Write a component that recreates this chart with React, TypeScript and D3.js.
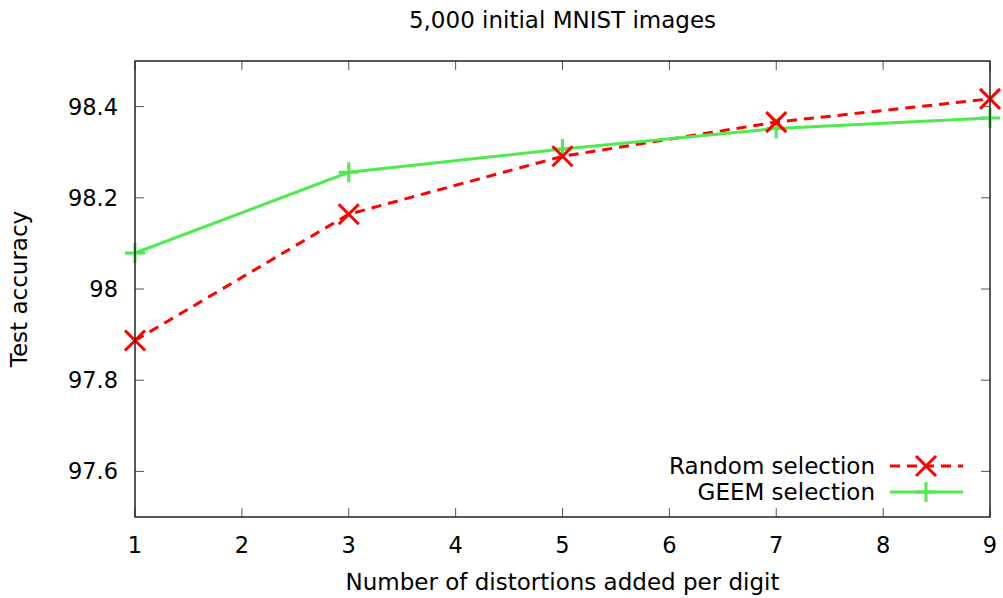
import React from "react";
import * as d3 from "d3";

const xValues = [1, 3, 5, 7, 9];
const randomSel = [97.887, 98.164, 98.291, 98.366, 98.417];
const geemSel = [98.079, 98.256, 98.307, 98.352, 98.375];
const xTicks = [1, 2, 3, 4, 5, 6, 7, 8, 9];
const yTicks = [97.6, 97.8, 98, 98.2, 98.4];
const yTickLabels = ["97.6", "97.8", "98", "98.2", "98.4"];

const W = 1003, H = 598;
const L = 135, R = 990, T = 61, B = 517;
const FONT = "DejaVu Sans, sans-serif";

export default function App() {
  const x = d3.scaleLinear().domain([1, 9]).range([L, R]);
  const y = d3.scaleLinear().domain([97.5, 98.5]).range([B, T]);
  const line = d3.line<number>().x((_, i) => x(xValues[i])).y((d) => y(d));
  const red = "#ff0000";
  const green = "#4deb4d";
  const ms = 10;

  const cross = (cx: number, cy: number, k: string) => (
    <g key={k} stroke={red} strokeWidth={3}>
      <line x1={cx - ms} y1={cy - ms} x2={cx + ms} y2={cy + ms} />
      <line x1={cx - ms} y1={cy + ms} x2={cx + ms} y2={cy - ms} />
    </g>
  );
  const plus = (cx: number, cy: number, k: string) => (
    <g key={k} stroke={green} strokeWidth={3}>
      <line x1={cx - ms} y1={cy} x2={cx + ms} y2={cy} />
      <line x1={cx} y1={cy - ms} x2={cx} y2={cy + ms} />
    </g>
  );

  return (
    <svg width={W} height={H} style={{ position: "absolute", left: 0, top: 0, background: "#fff" }} fontFamily={FONT}>
      {xTicks.map((t) => (
        <g key={"xt" + t} stroke="#555" strokeWidth={1}>
          <line x1={x(t)} x2={x(t)} y1={B} y2={B - 9} />
          <line x1={x(t)} x2={x(t)} y1={T} y2={T + 9} />
        </g>
      ))}
      {yTicks.map((t) => (
        <g key={"yt" + t} stroke="#555" strokeWidth={1}>
          <line x1={L} x2={L + 9} y1={y(t)} y2={y(t)} />
          <line x1={R} x2={R - 9} y1={y(t)} y2={y(t)} />
        </g>
      ))}
      <path d={line(randomSel) || ""} fill="none" stroke={red} strokeWidth={3} strokeDasharray="10,7" />
      <path d={line(geemSel) || ""} fill="none" stroke={green} strokeWidth={3} />
      {geemSel.map((v, i) => plus(x(xValues[i]), y(v), "g" + i))}
      {randomSel.map((v, i) => cross(x(xValues[i]), y(v), "r" + i))}
      <rect x={L} y={T} width={R - L} height={B - T} fill="none" stroke="#222" strokeWidth={1.5} />
      {xTicks.map((t) => (
        <text key={"xl" + t} x={x(t)} y={553} fontSize={22.5} textAnchor="middle" fill="#000">{t}</text>
      ))}
      {yTicks.map((t, i) => (
        <text key={"yl" + t} x={118} y={y(t) + 8} fontSize={22.5} textAnchor="end" fill="#000">{yTickLabels[i]}</text>
      ))}
      <text x={(L + R) / 2} y={28} fontSize={23} textAnchor="middle">5,000 initial MNIST images</text>
      <text x={(L + R) / 2} y={590} fontSize={23} textAnchor="middle">Number of distortions added per digit</text>
      <text transform={`translate(27,${(T + B) / 2}) rotate(-90)`} fontSize={23} textAnchor="middle">Test accuracy</text>
      <text x={875} y={474} fontSize={23} textAnchor="end">Random selection</text>
      <text x={875} y={500} fontSize={23} textAnchor="end">GEEM selection</text>
      <line x1={890} x2={963} y1={466} y2={466} stroke={red} strokeWidth={3} strokeDasharray="10,7" />
      {cross(926, 466, "lr")}
      <line x1={890} x2={963} y1={492} y2={492} stroke={green} strokeWidth={3} />
      {plus(926, 492, "lg")}
    </svg>
  );
}
